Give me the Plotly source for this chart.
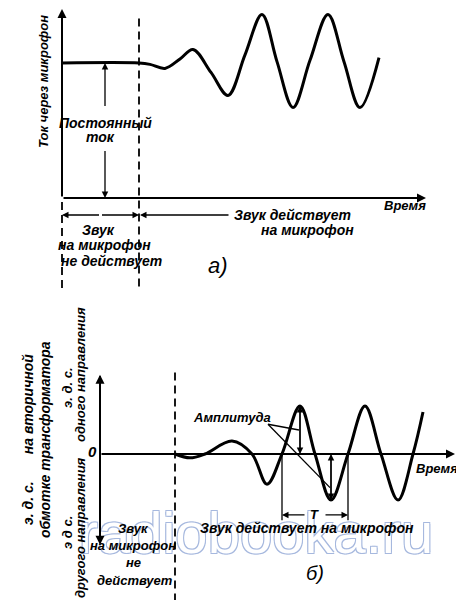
import plotly.graph_objects as go

# ---------------- data ----------------
# Panel а): current through the microphone (DC level = 1), time in arbitrary units
a_time = [0.0, 7.7, 8.8, 10.3, 11.8, 13.1, 14.9, 16.6, 18.3, 20.0, 21.5, 23.1, 24.8, 26.6, 28.2, 29.8, 31.7]
a_current = [1.00, 1.00, 0.99, 0.96, 1.03, 1.10, 0.93, 0.76, 1.06, 1.36, 1.01, 0.67, 1.02, 1.36, 1.01, 0.67, 1.04]
a_onset = 7.7          # moment the sound starts acting
a_dc = 1.0             # constant (DC) current

# Panel б): e.m.f. on the secondary winding of the transformer
b_time = [7.5, 9.0, 10.5, 13.2, 15.2, 16.7, 18.2, 20.0, 21.5, 23.1, 24.8, 26.5, 28.1, 29.8, 31.3, 32.3]
b_emf = [0.0, -0.08, 0.0, 0.27, 0.0, -0.63, 0.0, 1.00, 0.0, -0.96, 0.0, 1.00, 0.0, -0.96, 0.0, 0.875]
b_onset = 7.5
b_period = [18.2, 24.8]          # T: from one upward zero crossing to the next
b_amp_pos = [20.0, 1.00]         # positive amplitude (time, value)
b_amp_neg = [23.1, -0.96]        # negative amplitude (time, value)

FONT = "Liberation Sans, Arial, sans-serif"
INK = "black"

# the page body keeps an 8px margin, so the figure covers window pixels 8..464 / 8..600
OFF = 8
W, H = 464 - OFF, 600 - OFF

fig = go.Figure()

# watermark (page coordinates)
fig.add_trace(go.Scatter(
    x=[256], y=[538], mode="text", text=["radiobooka.ru"], xaxis="x", yaxis="y",
    textfont=dict(family="Liberation Sans Narrow, Liberation Sans, sans-serif", size=58, color="white",
                  shadow="1px 1px 0 #a6b8de, -1px -1px 0 #a6b8de, 1px -1px 0 #a6b8de, -1px 1px 0 #a6b8de"),
    hoverinfo="skip", showlegend=False))

fig.add_trace(go.Scatter(x=a_time, y=a_current, xaxis="x2", yaxis="y2", mode="lines",
                         line=dict(color=INK, width=3, shape="spline", smoothing=1.0),
                         hoverinfo="skip", showlegend=False))
fig.add_trace(go.Scatter(x=b_time, y=b_emf, xaxis="x3", yaxis="y3", mode="lines",
                         line=dict(color=INK, width=3, shape="spline", smoothing=1.0),
                         hoverinfo="skip", showlegend=False))

ann = []
shapes = []


def arrow(ax_name, x_head, y_head, x_tail, y_tail, width=1.3, size=1.0, head=2):
    xr = "x" + ax_name
    yr = "y" + ax_name
    ann.append(dict(xref=xr, yref=yr, axref=xr, ayref=yr, x=x_head, y=y_head, ax=x_tail, ay=y_tail,
                    showarrow=True, text="", arrowhead=head, arrowsize=size, arrowwidth=width,
                    arrowcolor=INK, standoff=0, startstandoff=0))


def line(ax_name, x0, y0, x1, y1, width=1.3, dash="solid"):
    shapes.append(dict(type="line", xref="x" + ax_name, yref="y" + ax_name, x0=x0, y0=y0, x1=x1, y1=y1,
                       line=dict(color=INK, width=width, dash=dash), layer="above"))


def label(text, x, y, size=14, angle=0, bold=True):
    ann.append(dict(xref="x", yref="y", x=x, y=y, text=text, showarrow=False, textangle=angle,
                    xanchor="center", yanchor="middle",
                    font=dict(family=FONT, size=size, color=INK, style="italic",
                              weight="bold" if bold else "normal")))


DASH = "8px,5px"

# ---------- panel а) ----------
arrow("2", 0, 1.40, 0, 0, width=2, size=0.9)           # current axis
arrow("2", 36.4, 0, 0, 0, width=2, size=0.9)           # time axis
line("2", a_onset, 1.33, a_onset, -0.69, width=1.8, dash=DASH)
line("2", 0, -0.03, 0, -0.69, width=1.8, dash=DASH)
# constant-current double arrow
arrow("2", 4.3, a_dc, 4.3, 0.67)
arrow("2", 4.3, 0, 4.3, 0.36)
# time-span arrows under the axis
arrow("2", 0, -0.126, a_onset / 2, -0.126)
arrow("2", a_onset, -0.126, a_onset / 2, -0.126)
arrow("2", a_onset + 0.1, -0.126, 16.8, -0.126)

label("Ток через микрофон", 43, 82, 13, -90)
label("Постоянный", 105, 123, 14)
label("ток", 100, 137, 14)
label("Время", 405, 205, 13)
label("Звук", 98, 230, 14)
label("на микрофон", 104, 245, 14)
label("не действует", 111, 261, 14)
label("Звук действует", 292, 215, 14)
label("на микрофон", 307, 230, 14)
label("а)", 218, 265, 22, bold=False)

# ---------- panel б) ----------
arrow("3", 0, 1.65, 0, -1.89, width=2, size=0.9)        # e.m.f. axis (both directions)
arrow("3", 0, -1.89, 0, 1.65, width=2, size=0.9)
arrow("3", 35.5, 0, 0, 0, width=2, size=0.9)           # time axis
line("3", b_onset, 1.70, b_onset, -3.1, width=1.8, dash=DASH)
# amplitudes
arrow("3", b_amp_pos[0], b_amp_pos[1], b_amp_pos[0], 0)
arrow("3", b_amp_pos[0], 0, b_amp_pos[0], b_amp_pos[1])
arrow("3", b_amp_neg[0], b_amp_neg[1], b_amp_neg[0], 0)
arrow("3", b_amp_neg[0], 0, b_amp_neg[0], b_amp_neg[1])
line("3", 16.8, 0.62, b_amp_pos[0] - 0.1, 0.50)
line("3", 16.8, 0.62, b_amp_neg[0] - 0.1, -0.70)
# period T
line("3", b_period[0], 0, b_period[0], -1.38)
line("3", b_period[1], 0, b_period[1], -1.38)
t_mid = (b_period[0] + b_period[1]) / 2
arrow("3", b_period[0], -1.27, t_mid - 0.9, -1.27)
arrow("3", b_period[1], -1.27, t_mid + 0.9, -1.27)

label("э. д. с.       на вторичной", 28, 440, 14, -90)
label("обмотке трансформатора", 45, 440, 14, -90)
label("э. д. с.", 67, 388, 13, -90)
label("одного направления", 80, 375, 13, -90)
label("э д с.", 67, 533, 13, -90)
label("другого направления", 80, 528, 13, -90)
label("0", 92, 451, 15)
label("Амплитуда", 232, 417, 13)
label("Время", 437, 468, 13)
label("T", 314, 514, 13)
label("Звук действует на микрофон", 307, 528, 14)
label("Звук", 133, 528, 13)
label("на микрофон", 133, 545, 13)
label("не", 133, 562, 13)
label("действует", 135, 580, 13)
label("б)", 315, 573, 20, bold=False)

hidden = dict(visible=False, fixedrange=True, showgrid=False, zeroline=False)
fig.update_layout(
    width=W, height=H, margin=dict(l=0, r=0, t=0, b=0),
    paper_bgcolor="white", plot_bgcolor="white", showlegend=False,
    xaxis=dict(range=[OFF, 464], domain=[0, 1], **hidden),
    yaxis=dict(range=[600, OFF], domain=[0, 1], **hidden),
    xaxis2=dict(range=[(OFF - 62) / 10, (464 - 62) / 10], overlaying="x", **hidden),
    yaxis2=dict(range=[(198 - 600) / 135, (198 - OFF) / 135], overlaying="y", **hidden),
    xaxis3=dict(range=[(OFF - 100) / 10, (464 - 100) / 10], overlaying="x", **hidden),
    yaxis3=dict(range=[(454 - 600) / 48, (454 - OFF) / 48], overlaying="y", **hidden),
    annotations=ann, shapes=shapes,
)

fig.write_html("out.html")
